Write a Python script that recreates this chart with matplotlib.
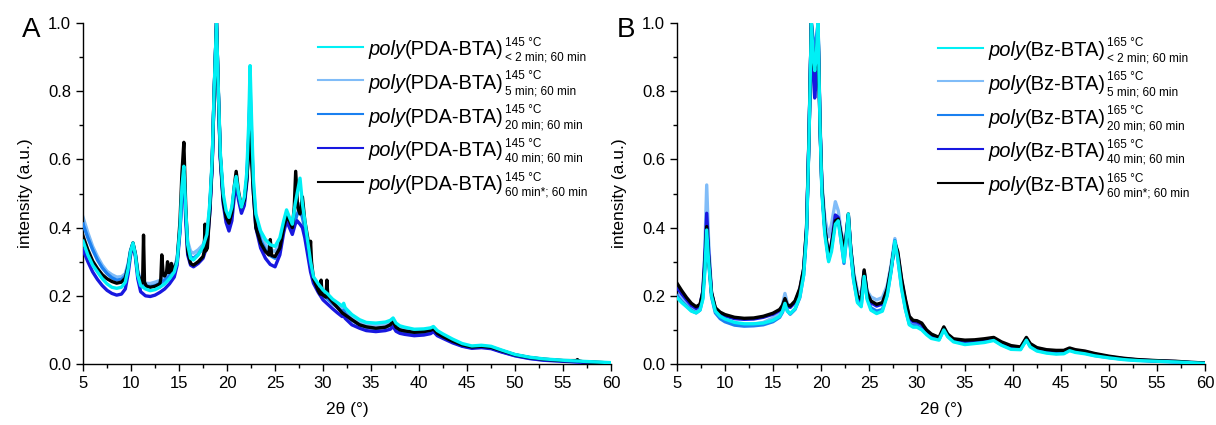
import matplotlib
matplotlib.use("Agg")
import matplotlib.pyplot as plt
from matplotlib.lines import Line2D
from matplotlib.ticker import MultipleLocator

plt.rcParams.update({
    "font.family": ["Liberation Sans", "DejaVu Sans"],
    "axes.linewidth": 1.0,
})

# ---------------- Panel A: poly(PDA-BTA), 145 °C ----------------
a_x = [5.0, 5.5, 6.0, 6.5, 7.0, 7.5, 8.0, 8.5, 9.0, 9.4, 9.7, 9.95, 10.2, 10.45, 10.7,
       11.0, 11.5, 12.0, 12.5, 13.0, 13.5, 14.0, 14.5, 14.8, 15.1, 15.3, 15.5, 15.7,
       15.9, 16.2, 16.5, 17.0, 17.5, 17.9, 18.2, 18.45, 18.65, 18.9, 19.1, 19.3, 19.6,
       19.9, 20.2, 20.5, 20.75, 20.95, 21.2, 21.5, 21.8, 22.05, 22.25, 22.4, 22.55,
       22.75, 23.0, 23.5, 24.0, 24.5, 25.0, 25.5, 25.9, 26.2, 26.5, 26.8, 27.1, 27.3,
       27.6, 27.85, 28.1, 28.4, 28.7, 29.0, 29.5, 30.0, 30.5, 31.0, 31.5, 32.0, 32.15,
       32.3, 33.0, 33.8, 34.5, 35.5, 36.5, 37.0, 37.3, 37.6, 38.0, 38.5, 39.5, 40.5,
       41.2, 41.5, 41.9, 42.5, 43.5, 44.5, 45.5, 46.5, 47.5, 48.5, 50.0, 51.5, 53.0,
       55.0, 57.0, 58.5, 60.0]

a_2min = [0.360, 0.320, 0.290, 0.270, 0.250, 0.235, 0.225, 0.222, 0.225, 0.240, 0.280,
          0.330, 0.355, 0.320, 0.260, 0.230, 0.220, 0.215, 0.218, 0.225, 0.235, 0.250,
          0.270, 0.300, 0.400, 0.520, 0.580, 0.450, 0.350, 0.310, 0.305, 0.320, 0.345,
          0.380, 0.470, 0.600, 0.800, 1.000, 0.800, 0.620, 0.500, 0.450, 0.430, 0.460,
          0.520, 0.550, 0.500, 0.460, 0.490, 0.560, 0.700, 0.875, 0.720, 0.540, 0.440,
          0.390, 0.365, 0.350, 0.345, 0.370, 0.420, 0.452, 0.430, 0.410, 0.470, 0.500,
          0.545, 0.470, 0.420, 0.360, 0.300, 0.256, 0.235, 0.217, 0.205, 0.190, 0.180,
          0.170, 0.178, 0.165, 0.145, 0.130, 0.122, 0.120, 0.123, 0.128, 0.135, 0.120,
          0.112, 0.108, 0.102, 0.103, 0.106, 0.110, 0.098, 0.088, 0.073, 0.060, 0.053,
          0.055, 0.052, 0.042, 0.028, 0.020, 0.015, 0.011, 0.008, 0.006, 0.004]

a_5min = [0.430, 0.385, 0.345, 0.315, 0.290, 0.272, 0.262, 0.255, 0.256, 0.265, 0.295,
          0.335, 0.355, 0.325, 0.275, 0.245, 0.237, 0.236, 0.240, 0.245, 0.255, 0.265,
          0.285, 0.310, 0.400, 0.500, 0.560, 0.440, 0.360, 0.330, 0.325, 0.335, 0.350,
          0.380, 0.460, 0.590, 0.790, 1.000, 0.790, 0.610, 0.490, 0.440, 0.420, 0.450,
          0.510, 0.540, 0.495, 0.455, 0.480, 0.545, 0.670, 0.820, 0.680, 0.520, 0.430,
          0.375, 0.350, 0.335, 0.330, 0.355, 0.410, 0.440, 0.420, 0.400, 0.420, 0.440,
          0.470, 0.440, 0.410, 0.350, 0.290, 0.250, 0.228, 0.210, 0.198, 0.185, 0.173,
          0.160, 0.165, 0.155, 0.138, 0.125, 0.118, 0.115, 0.118, 0.123, 0.130, 0.116,
          0.108, 0.104, 0.098, 0.099, 0.102, 0.106, 0.094, 0.084, 0.070, 0.057, 0.051,
          0.053, 0.050, 0.040, 0.027, 0.019, 0.014, 0.010, 0.007, 0.005, 0.003]

a_20min = [0.410, 0.370, 0.335, 0.305, 0.282, 0.265, 0.253, 0.246, 0.248, 0.258, 0.290,
           0.332, 0.352, 0.322, 0.268, 0.238, 0.229, 0.227, 0.230, 0.236, 0.246, 0.258,
           0.278, 0.305, 0.395, 0.500, 0.565, 0.440, 0.345, 0.315, 0.310, 0.322, 0.340,
           0.372, 0.455, 0.590, 0.790, 1.000, 0.790, 0.605, 0.485, 0.430, 0.410, 0.440,
           0.505, 0.540, 0.490, 0.450, 0.475, 0.540, 0.660, 0.800, 0.665, 0.510, 0.420,
           0.362, 0.335, 0.318, 0.310, 0.340, 0.400, 0.432, 0.410, 0.390, 0.420, 0.440,
           0.450, 0.430, 0.395, 0.345, 0.285, 0.245, 0.222, 0.202, 0.190, 0.177, 0.166,
           0.152, 0.158, 0.148, 0.128, 0.115, 0.108, 0.104, 0.108, 0.113, 0.120, 0.106,
           0.099, 0.095, 0.090, 0.091, 0.095, 0.100, 0.088, 0.079, 0.065, 0.053, 0.048,
           0.050, 0.047, 0.037, 0.025, 0.017, 0.012, 0.009, 0.006, 0.004, 0.003]

a_40min = [0.335, 0.300, 0.270, 0.248, 0.230, 0.216, 0.207, 0.202, 0.205, 0.220, 0.265,
           0.320, 0.350, 0.315, 0.250, 0.212, 0.200, 0.198, 0.202, 0.210, 0.220, 0.235,
           0.255, 0.290, 0.390, 0.500, 0.560, 0.420, 0.320, 0.290, 0.285, 0.295, 0.310,
           0.345, 0.440, 0.580, 0.790, 1.000, 0.790, 0.600, 0.470, 0.415, 0.390, 0.420,
           0.490, 0.530, 0.480, 0.442, 0.465, 0.530, 0.650, 0.780, 0.650, 0.500, 0.400,
           0.340, 0.310, 0.292, 0.285, 0.320, 0.385, 0.420, 0.400, 0.380, 0.410, 0.420,
           0.410, 0.400, 0.370, 0.320, 0.270, 0.237, 0.210, 0.188, 0.175, 0.162, 0.150,
           0.139, 0.142, 0.134, 0.115, 0.105, 0.098, 0.095, 0.098, 0.102, 0.110, 0.096,
           0.090, 0.087, 0.083, 0.085, 0.089, 0.095, 0.083, 0.075, 0.062, 0.052, 0.046,
           0.048, 0.045, 0.036, 0.024, 0.016, 0.011, 0.008, 0.005, 0.003, 0.002]

a_x_60min = [5.0, 5.5, 6.0, 6.5, 7.0, 7.5, 8.0, 8.5, 9.0, 9.4, 9.7, 9.95, 10.2, 10.45,
             10.7, 11.0, 11.2, 11.3, 11.4, 11.6, 12.0, 12.5, 13.0, 13.1, 13.2, 13.35,
             13.5, 13.7, 13.8, 13.95, 14.1, 14.2, 14.35, 14.5, 14.8, 15.1, 15.3, 15.5,
             15.7, 15.9, 16.2, 16.5, 17.0, 17.5, 17.62, 17.7, 17.8, 17.95, 18.2, 18.45,
             18.65, 18.9, 19.1, 19.3, 19.6, 19.9, 20.2, 20.5, 20.75, 20.95, 21.2, 21.5,
             21.8, 22.05, 22.25, 22.4, 22.55, 22.75, 23.0, 23.5, 24.0, 24.35, 24.5, 24.65,
             25.0, 25.5, 25.9, 26.2, 26.5, 26.8, 27.0, 27.15, 27.35, 27.6, 27.85, 28.1,
             28.4, 28.6, 28.7, 28.8, 29.0, 29.5, 29.7, 29.8, 29.9, 30.1, 30.3, 30.4, 30.5,
             30.7, 31.2, 32.0, 33.0, 33.8, 34.5, 35.5, 36.5, 37.0, 37.3, 37.6, 38.0, 38.5,
             39.5, 40.5, 41.2, 41.5, 41.9, 42.5, 43.5, 44.5, 45.5, 46.5, 47.5, 48.5, 50.0,
             51.5, 53.0, 55.0, 56.4, 56.5, 56.6, 57.0, 58.5, 60.0]

a_60min = [0.375, 0.335, 0.302, 0.280, 0.262, 0.250, 0.242, 0.237, 0.240, 0.252, 0.285,
           0.330, 0.355, 0.322, 0.265, 0.240, 0.238, 0.378, 0.240, 0.228, 0.225, 0.228,
           0.235, 0.250, 0.320, 0.262, 0.258, 0.270, 0.300, 0.268, 0.272, 0.295, 0.275,
           0.280, 0.300, 0.420, 0.560, 0.650, 0.460, 0.330, 0.295, 0.290, 0.300, 0.315,
           0.330, 0.410, 0.332, 0.340, 0.450, 0.590, 0.790, 1.000, 0.790, 0.610, 0.480,
           0.430, 0.413, 0.445, 0.520, 0.565, 0.505, 0.460, 0.480, 0.540, 0.620, 0.680,
           0.600, 0.500, 0.400, 0.355, 0.330, 0.320, 0.365, 0.318, 0.315, 0.340, 0.400,
           0.432, 0.420, 0.400, 0.460, 0.565, 0.460, 0.440, 0.490, 0.420, 0.370, 0.320,
           0.360, 0.300, 0.250, 0.215, 0.205, 0.246, 0.205, 0.200, 0.196, 0.246, 0.198,
           0.192, 0.175, 0.150, 0.130, 0.115, 0.109, 0.105, 0.108, 0.115, 0.125, 0.108,
           0.100, 0.097, 0.093, 0.095, 0.099, 0.103, 0.090, 0.080, 0.067, 0.056, 0.050,
           0.052, 0.049, 0.040, 0.027, 0.019, 0.014, 0.010, 0.010, 0.013, 0.009, 0.007,
           0.005, 0.003]

# ---------------- Panel B: poly(Bz-BTA), 165 °C ----------------
b_x = [5.0, 5.5, 6.0, 6.5, 7.0, 7.4, 7.7, 7.9, 8.1, 8.3, 8.6, 9.0, 9.5, 10.0, 11.0, 12.0,
       13.0, 14.0, 15.0, 15.7, 16.0, 16.25, 16.5, 16.8, 17.3, 17.8, 18.2, 18.5, 18.75,
       19.0, 19.2, 19.35, 19.5, 19.7, 19.9, 20.1, 20.4, 20.8, 21.1, 21.5, 21.8, 22.1,
       22.4, 22.65, 22.85, 23.1, 23.4, 23.8, 24.2, 24.5, 24.8, 25.2, 25.8, 26.4, 26.9,
       27.3, 27.7, 28.0, 28.4, 28.8, 29.2, 29.6, 30.0, 30.5, 31.0, 31.5, 32.3, 32.8,
       33.2, 33.8, 35.0, 36.0, 37.0, 38.0, 38.8, 39.8, 40.8, 41.4, 41.8, 42.5, 43.5,
       44.5, 45.3, 45.9, 46.5, 47.5, 48.5, 50.0, 51.5, 53.0, 55.0, 57.0, 58.5, 60.0]

b_2min = [0.195, 0.180, 0.168, 0.155, 0.150, 0.158, 0.190, 0.270, 0.393, 0.300, 0.200,
          0.155, 0.140, 0.132, 0.122, 0.118, 0.118, 0.120, 0.128, 0.140, 0.155, 0.178,
          0.155, 0.148, 0.162, 0.197, 0.260, 0.380, 0.650, 1.000, 0.900, 0.860, 0.900,
          1.000, 0.700, 0.500, 0.380, 0.300, 0.330, 0.410, 0.420, 0.360, 0.300, 0.370,
          0.440, 0.330, 0.246, 0.180, 0.168, 0.257, 0.190, 0.158, 0.148, 0.155, 0.200,
          0.270, 0.360, 0.310, 0.220, 0.160, 0.115, 0.108, 0.108, 0.100, 0.086, 0.075,
          0.070, 0.100, 0.080, 0.065, 0.057, 0.060, 0.063, 0.069, 0.055, 0.043, 0.042,
          0.070, 0.050, 0.038, 0.032, 0.029, 0.030, 0.039, 0.034, 0.030, 0.024, 0.018,
          0.013, 0.010, 0.008, 0.006, 0.004, 0.002]

b_5min = [0.207, 0.190, 0.175, 0.162, 0.155, 0.165, 0.210, 0.330, 0.525, 0.360, 0.210,
          0.155, 0.138, 0.128, 0.118, 0.115, 0.117, 0.122, 0.135, 0.152, 0.175, 0.207,
          0.178, 0.168, 0.180, 0.215, 0.280, 0.400, 0.670, 1.000, 0.930, 0.900, 0.930,
          1.000, 0.720, 0.530, 0.430, 0.373, 0.410, 0.476, 0.450, 0.390, 0.350, 0.390,
          0.430, 0.340, 0.270, 0.215, 0.205, 0.270, 0.215, 0.197, 0.188, 0.195, 0.230,
          0.290, 0.368, 0.320, 0.235, 0.170, 0.125, 0.118, 0.116, 0.106, 0.090, 0.079,
          0.073, 0.104, 0.084, 0.069, 0.062, 0.066, 0.070, 0.075, 0.060, 0.047, 0.045,
          0.073, 0.053, 0.041, 0.035, 0.032, 0.033, 0.042, 0.037, 0.033, 0.026, 0.020,
          0.015, 0.011, 0.009, 0.007, 0.005, 0.003]

b_20min = [0.200, 0.183, 0.170, 0.157, 0.150, 0.158, 0.195, 0.280, 0.410, 0.305, 0.198,
           0.150, 0.133, 0.124, 0.114, 0.111, 0.112, 0.115, 0.124, 0.137, 0.152, 0.180,
           0.156, 0.146, 0.160, 0.195, 0.262, 0.385, 0.660, 1.000, 0.950, 0.920, 0.950,
           1.000, 0.710, 0.510, 0.390, 0.305, 0.340, 0.420, 0.425, 0.360, 0.295, 0.365,
           0.435, 0.330, 0.248, 0.185, 0.172, 0.262, 0.195, 0.165, 0.155, 0.160, 0.203,
           0.272, 0.362, 0.312, 0.225, 0.162, 0.118, 0.112, 0.112, 0.103, 0.089, 0.078,
           0.072, 0.102, 0.082, 0.067, 0.059, 0.062, 0.065, 0.071, 0.057, 0.045, 0.044,
           0.072, 0.052, 0.040, 0.034, 0.031, 0.032, 0.041, 0.036, 0.032, 0.025, 0.019,
           0.014, 0.011, 0.008, 0.006, 0.004, 0.002]

b_40min = [0.225, 0.205, 0.188, 0.172, 0.163, 0.172, 0.215, 0.310, 0.442, 0.330, 0.208,
           0.162, 0.148, 0.141, 0.133, 0.131, 0.132, 0.137, 0.146, 0.157, 0.168, 0.188,
           0.170, 0.166, 0.181, 0.218, 0.276, 0.395, 0.655, 1.000, 0.850, 0.780, 0.830,
           0.990, 0.700, 0.515, 0.398, 0.310, 0.355, 0.437, 0.430, 0.375, 0.325, 0.375,
           0.438, 0.338, 0.256, 0.196, 0.186, 0.272, 0.206, 0.180, 0.170, 0.176, 0.215,
           0.276, 0.352, 0.325, 0.245, 0.185, 0.136, 0.124, 0.123, 0.116, 0.097, 0.085,
           0.075, 0.105, 0.085, 0.071, 0.067, 0.068, 0.071, 0.075, 0.062, 0.051, 0.048,
           0.075, 0.057, 0.046, 0.040, 0.038, 0.038, 0.045, 0.040, 0.036, 0.029, 0.021,
           0.016, 0.012, 0.009, 0.007, 0.004, 0.002]

b_60min = [0.237, 0.215, 0.195, 0.178, 0.168, 0.175, 0.210, 0.290, 0.403, 0.310, 0.210,
           0.165, 0.152, 0.145, 0.137, 0.134, 0.135, 0.140, 0.149, 0.160, 0.172, 0.192,
           0.173, 0.170, 0.185, 0.222, 0.280, 0.400, 0.660, 1.000, 0.880, 0.860, 0.880,
           0.980, 0.700, 0.520, 0.400, 0.315, 0.350, 0.420, 0.425, 0.380, 0.334, 0.380,
           0.440, 0.340, 0.260, 0.200, 0.190, 0.276, 0.210, 0.185, 0.175, 0.180, 0.220,
           0.280, 0.355, 0.330, 0.250, 0.190, 0.140, 0.128, 0.127, 0.120, 0.100, 0.088,
           0.078, 0.109, 0.088, 0.074, 0.070, 0.071, 0.074, 0.078, 0.065, 0.054, 0.050,
           0.078, 0.060, 0.048, 0.042, 0.040, 0.040, 0.047, 0.042, 0.038, 0.031, 0.023,
           0.017, 0.013, 0.010, 0.008, 0.005, 0.003]

series_colors = ["#00f0f5", "#80bcf8", "#1a80f0", "#1818e0", "#000000"]
times = ["< 2 min", "5 min", "20 min", "40 min", "60 min*"]

W, H = 1216, 425


def style_axes(ax):
    ax.set_xlim(5, 60)
    ax.set_ylim(0, 1.0)
    for side in ("top", "right"):
        ax.spines[side].set_visible(False)
    ax.xaxis.set_major_locator(MultipleLocator(5))
    ax.xaxis.set_minor_locator(MultipleLocator(2.5))
    ax.yaxis.set_major_locator(MultipleLocator(0.2))
    ax.yaxis.set_minor_locator(MultipleLocator(0.1))
    ax.tick_params(which="both", direction="out", width=1.0, labelsize=12)
    ax.tick_params(which="major", length=5)
    ax.tick_params(which="minor", length=3)
    ax.set_xlabel("2θ (°)", fontsize=12.5, labelpad=8)
    ax.set_ylabel("intensity (a.u.)", fontsize=12.5, labelpad=11)


def draw_key(fig, renderer, x_line, y_first, name, temp):
    """Legend built from pieces: line sample, italic 'poly', name, stacked scripts."""
    step = 33.8
    for i, (col, t) in enumerate(zip(series_colors, times)):
        y = y_first + i * step          # pixel row of the sample line (from top)
        fig.add_artist(Line2D([x_line / W, (x_line + 45) / W],
                              [1 - y / H, 1 - y / H], color=col, lw=1.5))
        base = 1 - (y + 8.5) / H
        t1 = fig.text((x_line + 50) / W, base, "poly", fontsize=14.5,
                      style="italic", va="baseline", ha="left")
        x1 = t1.get_window_extent(renderer).x1
        t2 = fig.text(x1 / W, base, "(" + name + ")", fontsize=14.5,
                      va="baseline", ha="left")
        x2 = t2.get_window_extent(renderer).x1 + 1
        fig.text(x2 / W, 1 - (y - 1) / H, temp + " °C", fontsize=8.5,
                 va="baseline", ha="left")
        fig.text(x2 / W, 1 - (y + 14) / H, t + "; 60 min", fontsize=8.5,
                 va="baseline", ha="left")


fig = plt.figure(figsize=(W / 100, H / 100), dpi=100)
renderer = fig.canvas.get_renderer()
axA = fig.add_axes([0.0683, 0.1435, 0.4342, 0.8024])
axB = fig.add_axes([0.5567, 0.1435, 0.4342, 0.8024])

a_series = [(a_x, a_2min), (a_x, a_5min), (a_x, a_20min), (a_x, a_40min),
            (a_x_60min, a_60min)]
b_series = [b_2min, b_5min, b_20min, b_40min, b_60min]

# cyan on top, then black, then the blues
z_order = [6, 2, 3, 4, 5]
for (xs, ys), col, z in zip(a_series, series_colors, z_order):
    axA.plot(xs, ys, color=col, lw=2.4, zorder=z, solid_joinstyle="round")
for ys, col, z in zip(b_series, series_colors, z_order):
    axB.plot(b_x, ys, color=col, lw=2.4, zorder=z, solid_joinstyle="round")

style_axes(axA)
style_axes(axB)

draw_key(fig, renderer, 318, 46.5, "PDA-BTA", "145")
draw_key(fig, renderer, 938, 47.5, "Bz-BTA", "165")

fig.text(22 / W, 1 - 30 / H, "A", fontsize=20, va="center", ha="left")
fig.text(617 / W, 1 - 30 / H, "B", fontsize=20, va="center", ha="left")

fig.savefig("out.png", dpi=100)
